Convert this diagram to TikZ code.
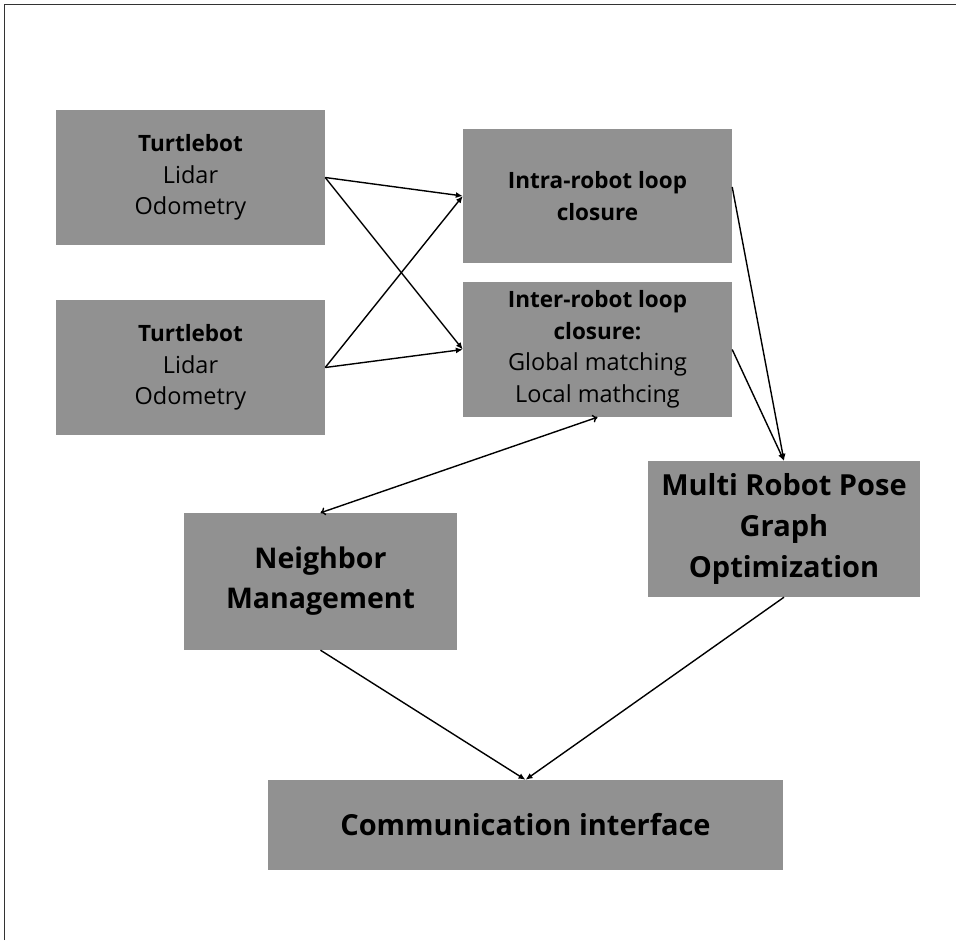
\documentclass[tikz,border=0pt]{standalone}
\usepackage{fontspec}
\setmainfont{Open Sans}
\usetikzlibrary{arrows.meta}
\definecolor{boxgray}{RGB}{145,145,145}
\newcommand{\rgtxt}[1]{{\fontsize{23.5}{31.5}\selectfont #1}}
\tikzset{
  box/.style={fill=boxgray, draw=none, inner sep=0pt, align=center, text=black},
  small/.style={font=\fontsize{22.5}{31.5}\selectfont},
  big/.style={font=\fontsize{29}{41}\selectfont\bfseries},
  conn/.style={line width=1.4pt, -{Latex[length=7pt,width=6pt]}},
  dconn/.style={line width=1.4pt, {To[length=5pt,width=8pt]}-{To[length=5pt,width=8pt]}},
}
\begin{document}
\begin{tikzpicture}[x=1pt,y=-1pt]
\useasboundingbox (0,0) rectangle (956,940);
\draw[line width=1pt, black!80] (4.5,940) -- (4.5,4.5) -- (956,4.5);

\node[box, small, minimum width=269pt, minimum height=135pt] (t1) at (190.5,177.5)
  {\textbf{Turtlebot}\\\rgtxt{Lidar}\\\rgtxt{Odometry}};
\node[box, small, minimum width=269pt, minimum height=135pt] (t2) at (190.5,367.5)
  {\textbf{Turtlebot}\\\rgtxt{Lidar}\\\rgtxt{Odometry}};
\node[box, small, minimum width=269pt, minimum height=134pt] (intra) at (597.5,196)
  {\textbf{Intra-robot loop}\\\textbf{closure}};
\node[box, small, minimum width=269pt, minimum height=135pt] (inter) at (597.5,349.5)
  {\textbf{Inter-robot loop}\\\textbf{closure:}\\\rgtxt{Global matching}\\\rgtxt{Local mathcing}};
\node[box, big, minimum width=272pt, minimum height=136pt] (mrpgo) at (784,529)
  {Multi Robot Pose\\Graph\\Optimization};
\node[box, font=\fontsize{28.5}{40}\selectfont\bfseries, minimum width=273pt, minimum height=137pt] (nbr) at (320.5,581.5)
  {Neighbor\\Management};
\node[box, minimum width=515pt, minimum height=90pt, font=\fontsize{29}{36}\selectfont\bfseries] (comm) at (525.5,825)
  {Communication interface};

\draw[conn] (t1.east) -- (intra.west);
\draw[conn] (t1.east) -- (inter.west);
\draw[conn] (t2.east) -- (intra.west);
\draw[conn] (t2.east) -- (inter.west);
\draw[conn] ([yshift=9pt]intra.east) -- (mrpgo.north);
\draw[conn] (inter.east) -- (mrpgo.north);
\draw[dconn] (inter.south) -- (nbr.north);
\draw[conn] (nbr.south) -- (comm.north);
\draw[conn] (mrpgo.south) -- (comm.north);
\end{tikzpicture}
\end{document}
